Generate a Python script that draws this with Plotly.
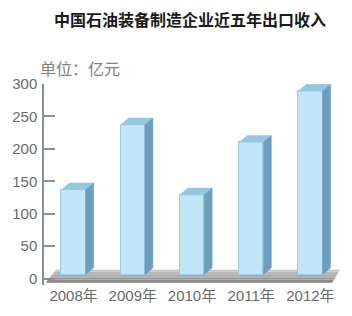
import plotly.graph_objects as go

# ---- data ----
years = ["2008年", "2009年", "2010年", "2011年", "2012年"]
revenue = [137, 237, 129, 210, 289]          # 亿元
y_ticks = [0, 50, 100, 150, 200, 250, 300]
title_text = "中国石油装备制造企业近五年出口收入"
unit_text = "单位：亿元"

# ---- styling / geometry (in axis units) ----
xs = list(range(len(years)))
W = 0.41      # front face width
DX = 0.135    # depth offset x
DY = 10.5     # depth offset y
BASE = 6      # bars stand on the middle of the floor
FRONT = "#c0e6f8"
TOP = "#97c6e0"
SIDE = "#6e9ebd"

fig = go.Figure()

# front faces
fig.add_trace(go.Bar(x=xs, y=[v - BASE for v in revenue], base=BASE, width=W,
                     marker=dict(color=FRONT, line=dict(color="#9ccbe4", width=1)),
                     hoverinfo="skip", showlegend=False))

# top faces
tx, ty = [], []
for x, v in zip(xs, revenue):
    tx += [x - W / 2, x + W / 2, x + W / 2 + DX, x - W / 2 + DX, x - W / 2, None]
    ty += [v, v, v + DY, v + DY, v, None]
fig.add_trace(go.Scatter(x=tx, y=ty, mode="lines", fill="toself", fillcolor=TOP,
                         line=dict(color=TOP, width=0.5), hoverinfo="skip", showlegend=False))

# side faces
sx, sy = [], []
for x, v in zip(xs, revenue):
    r = x + W / 2
    sx += [r, r + DX, r + DX, r, r, None]
    sy += [BASE, BASE + DY, v + DY, v, BASE, None]
fig.add_trace(go.Scatter(x=sx, y=sy, mode="lines", fill="toself", fillcolor=SIDE,
                         line=dict(color=SIDE, width=0.5), hoverinfo="skip", showlegend=False))

# floor (gradient via bands), drawn below traces
x_bl, x_br, x_tl, x_tr = -0.47, 4.37, -0.30, 4.50
y_b, y_t = -6.5, 13.5
n = 8
shapes = []
for i in range(n):
    f0, f1 = i / n, (i + 1) / n
    def lerp(a, b, f):
        return a + (b - a) * f
    p = [(lerp(x_bl, x_tl, f0), lerp(y_b, y_t, f0)), (lerp(x_br, x_tr, f0), lerp(y_b, y_t, f0)),
         (lerp(x_br, x_tr, f1), lerp(y_b, y_t, f1)), (lerp(x_bl, x_tl, f1), lerp(y_b, y_t, f1))]
    g = int(lerp(130, 200, (f0 + f1) / 2))
    path = "M{},{} L{},{} L{},{} L{},{} Z".format(*[c for pt in p for c in pt])
    shapes.append(dict(type="path", path=path, xref="x", yref="y", layer="below",
                       fillcolor=f"rgb({g},{g},{g})", line=dict(width=0)))

tick_font = dict(family="Liberation Sans Narrow, Liberation Sans, Noto Sans CJK SC", size=15, color="#6a6a6a")

fig.update_layout(
    width=352, height=316,
    margin=dict(l=40, r=12, t=84, b=30),
    paper_bgcolor="white", plot_bgcolor="white",
    shapes=shapes,
    bargap=0,
    title=dict(text=f"<b>{title_text}</b>", x=190 / 352, xanchor="center", y=1 - 20 / 316, yanchor="middle",
               font=dict(family="Noto Sans CJK SC", size=16, color="#1a1a1a")),
    annotations=[dict(text=unit_text, xref="paper", yref="paper", x=(34 - 40) / 300, y=(286 - 68) / 202,
                      xanchor="left", yanchor="middle", showarrow=False,
                      font=dict(family="Noto Sans CJK SC", size=16, color="#808080"))],
    xaxis=dict(range=[-0.5, 4.5], tickvals=xs, ticktext=years, showgrid=False, zeroline=False,
               showline=False, ticks="", fixedrange=True, tickfont=tick_font),
    yaxis=dict(range=[-10, 300], tickvals=y_ticks, showgrid=False, zeroline=False,
               showline=True, linecolor="#8f8f8f", linewidth=1.5, ticks="inside", ticklen=11,
               tickcolor="#8f8f8f", tickwidth=1.5, ticklabelstandoff=2, tickfont=tick_font),
)

fig.write_html("out.html")
